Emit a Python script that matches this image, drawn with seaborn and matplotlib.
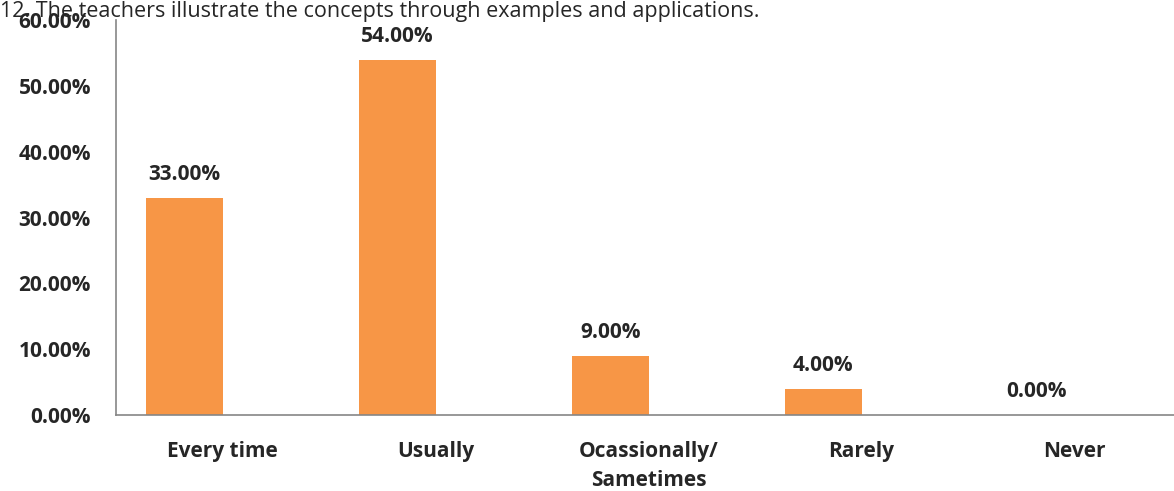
import numpy as np
import pandas as pd
import seaborn as sns
import matplotlib.pyplot as plt

categories = ["Every time", "Usually", "Ocassionally/\nSametimes", "Rarely", "Never"]
percent = [33.0, 54.0, 9.0, 4.0, 0.0]
y_ticks = [0, 10, 20, 30, 40, 50, 60]

# excel-style clustered chart: second (empty) series pushes the bars left
df = pd.DataFrame({
    "cat": categories * 2,
    "val": percent + [0.0] * len(percent),
    "series": ["a"] * len(percent) + ["b"] * len(percent),
})

sns.set_style("white")
plt.rcParams['font.family'] = ['Open Sans', 'DejaVu Sans']

fig = plt.figure(figsize=(11.74, 4.91), dpi=100)
ax = fig.add_axes([116 / 1174, 76 / 491, 1065 / 1174, 395 / 491])

sns.barplot(data=df, x="cat", y="val", hue="series", order=categories,
            palette=["#F79646", "#F79646"], width=0.72, legend=False,
            ax=ax, saturation=1, linewidth=0)

fs = 15
ax.set_ylim(0, 60)
ax.set_xlim(-0.5, 4.5)
ax.set_yticks(y_ticks)
ax.set_yticklabels([f"{t:.2f}%" for t in y_ticks], fontsize=fs, fontweight="bold")
ax.set_xticks(range(len(categories)))
ax.set_xticklabels(categories, fontsize=fs, fontweight="bold", linespacing=1.55)
ax.tick_params(axis="x", length=0, pad=18.5)
ax.tick_params(axis="y", length=0, pad=18)
ax.set_xlabel("")
ax.set_ylabel("")

for s in ["top", "right"]:
    ax.spines[s].set_visible(False)
for s in ["left", "bottom"]:
    ax.spines[s].set_color("#868686")
    ax.spines[s].set_linewidth(1.2)

# value labels above the first series bars
for i, v in enumerate(percent):
    ax.text(i - 0.18, v + 2.7, f"{v:.2f}%", ha="center", va="baseline",
            fontsize=fs, fontweight="bold")

fig.text(0, 1 - 17 / 491, "12. The teachers illustrate the concepts through examples and applications.",
         ha="left", va="baseline", fontsize=15.5)

fig.savefig("out.png", dpi=100)
